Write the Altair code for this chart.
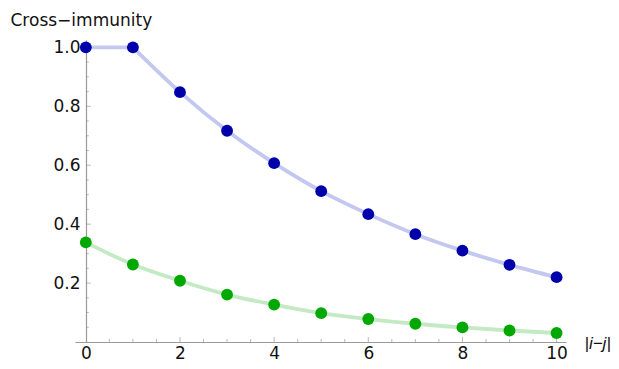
import altair as alt
import pandas as pd

distance = [0, 1, 2, 3, 4, 5, 6, 7, 8, 9, 10]
strong = [1.0, 1.0, 0.848, 0.717, 0.607, 0.512, 0.434, 0.366, 0.31, 0.262, 0.22]
weak = [0.338, 0.263, 0.208, 0.161, 0.127, 0.098, 0.078, 0.062, 0.0495, 0.039, 0.0305]

x_labels = [0, 2, 4, 6, 8, 10]
x_major = [2, 4, 6, 8, 10]
x_minor = [0.5, 1, 1.5, 2.5, 3, 3.5, 4.5, 5, 5.5, 6.5, 7, 7.5, 8.5, 9, 9.5]
y_major = [0.2, 0.4, 0.6, 0.8, 1.0]
y_minor = [0.05, 0.1, 0.15, 0.25, 0.3, 0.35, 0.45, 0.5, 0.55, 0.65, 0.7, 0.75,
           0.85, 0.9, 0.95]

df = pd.DataFrame({"d": distance * 2,
                   "v": strong + weak,
                   "s": ["strong"] * 11 + ["weak"] * 11})

# line pieces: the strong curve has a kink at |i-j| = 1 (plateau, then decay)
line_df = pd.DataFrame({
    "d": distance[:2] + distance[1:] + distance,
    "v": strong[:2] + strong[1:] + weak,
    "s": ["strong"] * 2 + ["strong"] * 10 + ["weak"] * 11,
    "seg": ["plateau"] * 2 + ["decay"] * 10 + ["weak"] * 11,
})

FONT = "DejaVu Sans"
AX = "#9a9a9a"

xs = alt.Scale(domain=[-0.23, 10.2], nice=False, zero=False)
ys = alt.Scale(domain=[0, 1.025], nice=False, zero=False)

x_enc = alt.X("d:Q", scale=xs, axis=alt.Axis(
    values=x_labels, tickSize=0, grid=False, domainColor=AX, domainWidth=1.2,
    labelFont=FONT, labelFontSize=17, labelColor="#111", labelPadding=3,
    title="|i−j|", titleFont="Liberation Sans", titleFontSize=17,
    titleFontWeight="normal", titleFontStyle="italic", titleColor="#111",
    titleX=509, titleY=6, titleAlign="left", titleBaseline="alphabetic"))
y_enc = alt.Y("v:Q", scale=ys, axis=alt.Axis(
    values=y_major, format=".1f", tickSize=0, grid=False, offset=-11,
    domainColor=AX, domainWidth=1.2,
    labelFont=FONT, labelFontSize=17, labelColor="#111", labelPadding=6,
    title="Cross−immunity", titleFont=FONT, titleFontSize=17,
    titleFontWeight="normal", titleColor="#111", titleAngle=0,
    titleX=-76, titleY=-15, titleAlign="left", titleBaseline="alphabetic"))

color_line = alt.Color("s:N", legend=None, scale=alt.Scale(
    domain=["strong", "weak"], range=["#c4c7ef", "#c3eac3"]))
color_pt = alt.Color("s:N", legend=None, scale=alt.Scale(
    domain=["strong", "weak"], range=["#0000aa", "#00a800"]))

lines = alt.Chart(line_df).mark_line(strokeWidth=3.8, interpolate="monotone").encode(
    x=x_enc, y=y_enc, color=color_line, detail="seg:N")
points = alt.Chart(df).mark_point(filled=True, opacity=1, size=140).encode(
    x="d:Q", y="v:Q", fill=color_pt, stroke=alt.value(None))

xmaj = alt.Chart(pd.DataFrame({"t": x_major})).mark_tick(
    orient="vertical", size=5, thickness=1, yOffset=-2.5, color=AX).encode(
    x=alt.X("t:Q", scale=xs), y=alt.datum(0))
xmin = alt.Chart(pd.DataFrame({"t": x_minor})).mark_tick(
    orient="vertical", size=3, thickness=1, yOffset=-1.5, color=AX).encode(
    x=alt.X("t:Q", scale=xs), y=alt.datum(0))
ymaj = alt.Chart(pd.DataFrame({"t": y_major})).mark_tick(
    orient="horizontal", size=5, thickness=1, xOffset=2.5, color=AX).encode(
    y=alt.Y("t:Q", scale=ys), x=alt.datum(0))
ymin = alt.Chart(pd.DataFrame({"t": y_minor})).mark_tick(
    orient="horizontal", size=3, thickness=1, xOffset=1.5, color=AX).encode(
    y=alt.Y("t:Q", scale=ys), x=alt.datum(0))

chart = alt.layer(xmin, xmaj, ymin, ymaj, lines, points).resolve_scale(
    color="independent"
).properties(
    width=491, height=302,
    autosize=alt.AutoSizeParams(type="none"),
    padding={"left": 67, "top": 32, "right": 45, "bottom": 22},
    background="white",
).configure_view(stroke=None)

chart.save("out.html", embed_options={"renderer": "svg", "actions": False})
